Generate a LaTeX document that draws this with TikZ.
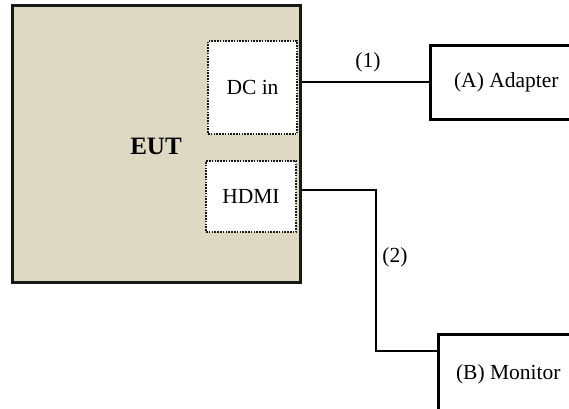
\documentclass[tikz,border=0pt]{standalone}
\usepackage{fontspec}
\setmainfont{Liberation Serif}
\usepackage{tikz}
\usetikzlibrary{positioning}
\definecolor{eutfill}{RGB}{221,217,195}

\begin{document}
\begin{tikzpicture}[x=1pt,y=-1pt,inner sep=0pt,
  port/.style={rectangle,draw=black!90,fill=white,line width=2pt,dash pattern=on 1.6pt off 1.2pt},
  unit/.style={rectangle,draw=black,line width=2.6pt,fill=white},
  wire/.style={draw=black,line width=2.2pt}]
\useasboundingbox (0,0) rectangle (569,408);
\fontsize{21.5}{25}\selectfont
\node at (156,143.5) [rectangle,draw=black!90,line width=3pt,fill=eutfill,minimum width=288pt,minimum height=277pt] (eut) {};
\node at (156,146) (eutname) {\fontsize{25}{30}\selectfont\bfseries EUT};
\node at (252.5,87.5) [port,minimum width=89pt,minimum height=93pt] (dcin) {DC in};
\node at (251,196.5) [port,minimum width=90pt,minimum height=71pt] (hdmi) {HDMI};
\node at (429,44) [unit,anchor=north west,minimum width=152pt,minimum height=74pt] (adapter) {(A) Adapter};
\node at (437,333) [unit,anchor=north west,minimum width=140pt,minimum height=80pt] (monitor) {(B) Monitor};
\coordinate (bend) at (376,351);
\draw[wire] (eut.east |- adapter.west) -- (adapter.west);
\draw[wire] ([yshift=6.5pt]hdmi.east -| eut.east) -| (bend) -- (bend -| monitor.west);
\node at (368,62) (lab1) {(1)};
\node at (395,257) (lab2) {(2)};
\end{tikzpicture}
\end{document}
